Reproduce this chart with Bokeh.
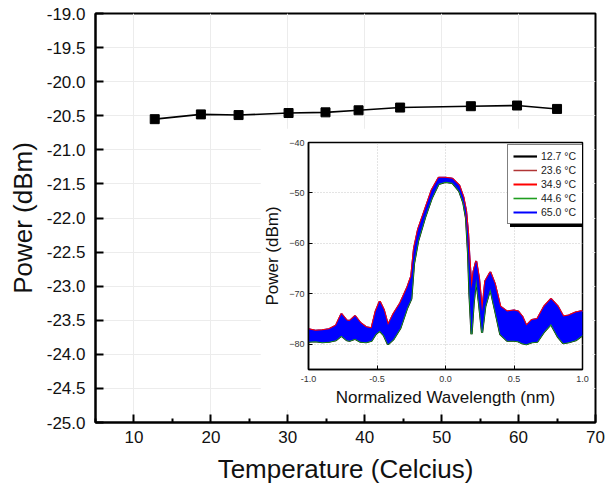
from bokeh.plotting import figure
from bokeh.models import Range1d, FixedTicker, NumeralTickFormatter, Legend, LegendItem
from bokeh.layouts import column
from bokeh.embed import file_html
from bokeh.resources import INLINE

FONT = "Liberation Sans"

# ---- main data ----
temps = [12.7, 18.7, 23.6, 30.1, 34.9, 39.2, 44.6, 53.8, 59.8, 65.0]
power = [-20.55, -20.48, -20.49, -20.46, -20.45, -20.42, -20.38, -20.36, -20.35, -20.40]
x_major = [10, 20, 30, 40, 50, 60, 70]
x_minor = [5, 15, 25, 35, 45, 55, 65]
y_major = [-25.0, -24.5, -24.0, -23.5, -23.0, -22.5, -22.0, -21.5, -21.0, -20.5, -20.0, -19.5, -19.0]

# ---- inset spectra (envelope of the noisy traces) ----
wl = [-1.00, -0.95, -0.90, -0.85, -0.80, -0.76, -0.72, -0.70, -0.66, -0.62,
      -0.58, -0.54, -0.51, -0.48, -0.45, -0.42, -0.38, -0.33, -0.28, -0.25,
      -0.23, -0.20, -0.15, -0.10, -0.05, 0.00, 0.05, 0.10, 0.13, 0.15,
      0.165, 0.175, 0.19, 0.205, 0.224, 0.245, 0.267, 0.29, 0.327, 0.36,
      0.40, 0.45, 0.50, 0.53, 0.56, 0.59, 0.63, 0.67, 0.72, 0.77,
      0.82, 0.86, 0.90, 0.95, 1.00]
upper = [-77.0, -77.3, -77.2, -77.0, -76.3, -74.0, -75.3, -75.4, -74.4, -75.8,
         -76.6, -76.8, -73.5, -71.5, -73.2, -76.2, -74.0, -71.8, -68.8, -66.5,
         -61.0, -57.2, -53.3, -49.4, -47.0, -47.0, -47.2, -48.5, -50.8, -53.5,
         -58.0, -63.0, -69.0, -65.5, -63.5, -67.0, -73.5, -67.5, -65.7, -68.0,
         -72.5, -73.5, -73.3, -73.5, -74.5, -76.3, -75.2, -75.0, -72.5, -71.0,
         -72.5, -74.5, -74.3, -73.7, -73.4]
lower = [-79.5, -79.4, -79.6, -79.5, -79.2, -78.3, -79.2, -79.3, -78.9, -79.5,
         -79.6, -79.3, -78.0, -77.3, -78.2, -80.0, -79.0, -76.8, -72.8, -71.0,
         -64.0, -59.5, -54.9, -51.0, -48.2, -47.8, -48.0, -49.6, -51.9, -55.0,
         -62.0, -70.0, -78.0, -72.0, -67.0, -72.0, -77.7, -72.5, -69.0, -73.0,
         -78.0, -79.3, -79.3, -79.4, -79.8, -80.0, -79.6, -79.5, -77.5, -76.0,
         -78.5, -79.8, -79.6, -79.2, -78.2]
trace_labels = ["12.7 °C", "23.6 °C", "34.9 °C", "44.6 °C", "65.0 °C"]
trace_colors = ["#000000", "#b03535", "#ff0000", "#1f9e1f", "#0000ff"]
inset_x_ticks = [-1.0, -0.5, 0.0, 0.5, 1.0]
inset_y_ticks = [-80, -70, -60, -50, -40]

# ---- main figure ----
p = figure(width=608, height=488, x_range=Range1d(5, 70), y_range=Range1d(-25, -19),
           output_backend="svg", toolbar_location=None,
           min_border_left=95, min_border_right=13, min_border_top=13, min_border_bottom=66)
p.frame_align = False
p.line(temps, power, line_color="black", line_width=1.6)
p.scatter(temps, power, marker="square", size=9, fill_color="black", line_color="black")

p.xaxis.ticker = FixedTicker(ticks=x_major, minor_ticks=x_minor)
p.yaxis.ticker = FixedTicker(ticks=y_major)
p.yaxis.formatter = NumeralTickFormatter(format="0.0")
for ax in (p.xaxis[0], p.yaxis[0]):
    ax.axis_line_width = 2
    ax.axis_line_color = "black"
    ax.major_tick_in = 8
    ax.major_tick_out = 0
    ax.minor_tick_in = 4
    ax.minor_tick_out = 0
    ax.major_tick_line_width = 2
    ax.minor_tick_line_width = 2
    ax.major_label_text_font = FONT
    ax.major_label_text_font_size = "17px"
    ax.major_label_text_color = "#111111"
    ax.axis_label_text_font = FONT
    ax.axis_label_text_font_size = "26px"
    ax.axis_label_text_font_style = "normal"
    ax.axis_label_text_color = "#111111"
p.xaxis.axis_label = "Temperature (Celcius)"
p.yaxis.axis_label = "Power (dBm)"
p.xaxis.major_label_standoff = 8
p.xaxis.axis_label_standoff = 8
p.yaxis.major_label_standoff = 10
p.yaxis.axis_label_standoff = 6
p.yaxis.minor_tick_in = 0
p.xgrid.ticker = FixedTicker(ticks=x_major)
p.xgrid.grid_line_color = "#ececec"
p.ygrid.grid_line_color = "#ececec"
p.outline_line_color = "black"
p.outline_line_width = 2
p.outline_line_alpha = 1

# ---- inset figure ----
q = figure(width=332, height=282, x_range=Range1d(-1, 1), y_range=Range1d(-85, -40),
           output_backend="svg", toolbar_location=None,
           min_border_left=44, min_border_right=10, min_border_top=14, min_border_bottom=41)
q.frame_align = False
q.margin = (-360, 0, 0, 260)

# edges of the individual traces peeking out around the blue one
r4 = q.line(wl, upper, line_color=trace_colors[4], line_width=2)
r0 = q.line(wl, lower, line_color=trace_colors[0], line_width=2.2)
r1 = q.line(wl, upper, line_color=trace_colors[1], line_width=1.5)
r3 = q.line(wl, lower, line_color=trace_colors[3], line_width=1.6)
r2 = q.line(wl, upper, line_color=trace_colors[2], line_width=2)
q.varea(x=wl, y1=lower, y2=upper, fill_color=trace_colors[4], fill_alpha=1)
renderers = [r0, r1, r2, r3, r4]

q.xaxis.ticker = FixedTicker(ticks=inset_x_ticks, num_minor_ticks=2)
q.yaxis.ticker = FixedTicker(ticks=inset_y_ticks, num_minor_ticks=2)
q.xaxis.formatter = NumeralTickFormatter(format="0.0")
for ax in (q.xaxis[0], q.yaxis[0]):
    ax.axis_line_width = 1.5
    ax.axis_line_color = "black"
    ax.major_tick_in = 4
    ax.major_tick_out = 0
    ax.minor_tick_in = 2
    ax.minor_tick_out = 0
    ax.major_label_text_font = FONT
    ax.major_label_text_font_size = "9px"
    ax.major_label_text_color = "#333333"
    ax.axis_label_text_font = FONT
    ax.axis_label_text_font_size = "17px"
    ax.axis_label_text_font_style = "normal"
    ax.axis_label_text_color = "#111111"
q.xaxis.axis_label = "Normalized Wavelength (nm)"
q.yaxis.axis_label = "Power (dBm)"
q.xaxis.major_label_standoff = 6
q.xaxis.axis_label_standoff = 3
q.yaxis.major_label_standoff = 4
q.yaxis.axis_label_standoff = 4
for g in (q.xgrid[0], q.ygrid[0]):
    g.grid_line_color = "#c8c8c8"
    g.grid_line_dash = "1 2"
q.outline_line_color = "black"
q.outline_line_width = 1.5
q.outline_line_alpha = 1

legend_style = dict(label_text_font=FONT, label_text_font_size="10.5px", glyph_width=24,
                    glyph_height=12, label_height=12, label_width=37, spacing=2,
                    padding=5, margin=0, label_standoff=4, background_fill_alpha=1)
shadow_items = [LegendItem(label=" ", renderers=[r]) for r in renderers]
shadow = Legend(items=shadow_items, location=(202, 142), background_fill_color="black",
                border_line_color="black", label_text_color="black", **legend_style)
items = [LegendItem(label=lab, renderers=[r]) for lab, r in zip(trace_labels, renderers)]
leg = Legend(items=items, location=(199, 145), background_fill_color="white",
             border_line_color="black", border_line_width=1,
             label_text_color="#222222", **legend_style)
q.add_layout(shadow)
q.add_layout(leg)

layout = column(p, q)
open("out.html", "w").write(file_html(layout, INLINE))
